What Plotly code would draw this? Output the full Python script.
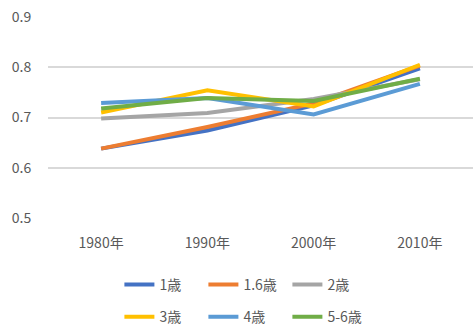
import plotly.graph_objects as go

years = ["1980年", "1990年", "2000年", "2010年"]
series_names = ["1歳", "1.6歳", "2歳", "3歳", "4歳", "5-6歳"]
v_1 = [0.638, 0.674, 0.724, 0.798]
v_16 = [0.638, 0.681, 0.728, 0.803]
v_2 = [0.698, 0.709, 0.737, 0.776]
v_3 = [0.710, 0.754, 0.722, 0.805]
v_4 = [0.729, 0.739, 0.706, 0.767]
v_56 = [0.718, 0.739, 0.733, 0.777]
values = [v_1, v_16, v_2, v_3, v_4, v_56]
colors = ["#4472C4", "#ED7D31", "#A5A5A5", "#FFC000", "#5B9BD5", "#70AD47"]

FONT = "Noto Sans CJK JP"
TXT = "#595959"

fig = go.Figure()
for i, (name, vals, c) in enumerate(zip(series_names, values, colors)):
    fig.add_trace(go.Scatter(
        x=years, y=vals, name=name, mode="lines",
        line=dict(color=c, width=4),
        legend="legend" if i < 3 else "legend2",
    ))

leg_common = dict(orientation="h", xanchor="left", yanchor="middle",
                  font=dict(family=FONT, size=14, color=TXT),
                  entrywidth=39, entrywidthmode="pixels",
                  bgcolor="rgba(0,0,0,0)")

fig.update_layout(
    width=473, height=326,
    margin=dict(l=48, r=0, t=17, b=108, autoexpand=False),
    paper_bgcolor="white", plot_bgcolor="white",
    font=dict(family=FONT, size=14, color=TXT),
    showlegend=True,
    legend=dict(x=0.168, y=-0.333, **leg_common),
    legend2=dict(x=0.168, y=-0.493, **leg_common),
    xaxis=dict(type="category", range=[-0.5, 3.5], showgrid=False, zeroline=False,
               showline=False, ticks="outside", ticklen=12, tickcolor="rgba(0,0,0,0)",
               tickfont=dict(family=FONT, size=14, color=TXT)),
    yaxis=dict(range=[0.5, 0.9], tickvals=[0.5, 0.6, 0.7, 0.8, 0.9],
               ticktext=["0.5", "0.6", "0.7", "0.8", "0.9"],
               showgrid=True, gridcolor="#D9D9D9", gridwidth=1.5,
               zeroline=False, showline=False, ticks="outside", ticklen=13,
               tickcolor="rgba(0,0,0,0)",
               tickfont=dict(family=FONT, size=14, color=TXT)),
)

fig.write_html("out.html")
